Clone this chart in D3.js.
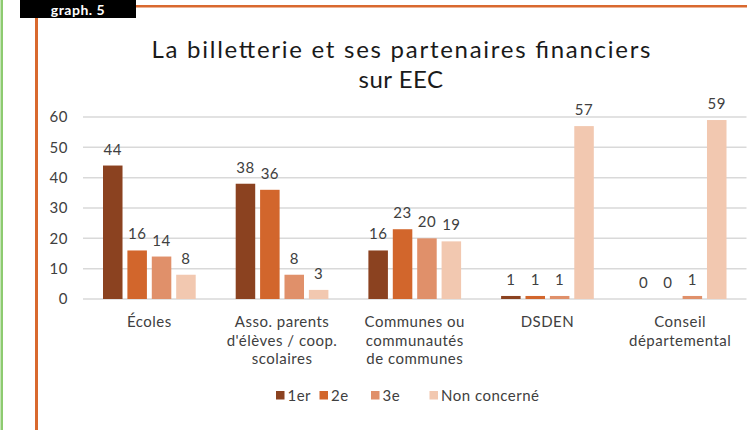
<!DOCTYPE html>
<html>
<head>
<meta charset="utf-8">
<script src="https://cdn.jsdelivr.net/npm/d3@7"></script>
<style>
  html, body { margin: 0; padding: 0; background: #fff; }
  svg { display: block; font-family: Lato, "Open Sans", sans-serif; }
</style>
</head>
<body>
<svg id="chart" width="747" height="430"></svg>
<script>
const categories = [
  ["Écoles"],
  ["Asso. parents", "d'élèves / coop.", "scolaires"],
  ["Communes ou", "communautés", "de communes"],
  ["DSDEN"],
  ["Conseil", "départemental"]
];
const seriesNames = ["1er", "2e", "3e", "Non concerné"];
const s1er = [44, 38, 16, 1, 0];
const s2e = [16, 36, 23, 1, 0];
const s3e = [14, 8, 20, 1, 1];
const sNon = [8, 3, 19, 57, 59];
const yTicks = [0, 10, 20, 30, 40, 50, 60];
const colors = ["#8B4220", "#D2662C", "#E0906A", "#F2C8B0"];

const seriesValues = [s1er, s2e, s3e, sNon];
const svg = d3.select("#chart");

// decorative frame
svg.append("rect").attr("x", 0.5).attr("y", 0).attr("width", 2.5).attr("height", 430).attr("fill", "#8DCB70");
svg.append("rect").attr("x", 35).attr("y", 5).attr("width", 3).attr("height", 425).attr("fill", "#D9692F");
svg.append("rect").attr("x", 35).attr("y", 5).attr("width", 712).attr("height", 2.5).attr("fill", "#D9692F");
svg.append("rect").attr("x", 20).attr("y", 0).attr("width", 116).attr("height", 18).attr("fill", "#000");
svg.append("text").attr("x", 78).attr("y", 14.5).attr("text-anchor", "middle")
  .attr("fill", "#fff").attr("font-size", 14).attr("font-weight", "bold").attr("letter-spacing", 0.5).text("graph. 5");

// title
svg.append("text").attr("x", 401).attr("y", 58).attr("text-anchor", "middle")
  .attr("fill", "#1a1a1a").attr("font-size", 24)
  .attr("textLength", 499).attr("lengthAdjust", "spacing")
  .text("La billetterie et ses partenaires financiers");
svg.append("text").attr("x", 401).attr("y", 88).attr("text-anchor", "middle")
  .attr("fill", "#1a1a1a").attr("font-size", 24).attr("letter-spacing", 0.5)
  .text("sur EEC");

// scales
const x0 = d3.scaleBand().domain(d3.range(categories.length)).range([83, 746.5]).paddingInner(0).paddingOuter(0);
const innerW = 92.7;
const x1 = d3.scaleBand().domain(d3.range(seriesNames.length)).range([0, innerW]).paddingInner(0.2).paddingOuter(0);
const groupOffset = (x0.bandwidth() - innerW) / 2;
const y = d3.scaleLinear().domain([0, 60]).range([299, 117]);

// gridlines
svg.append("g").selectAll("line").data(yTicks).join("line")
  .attr("x1", 83).attr("x2", 746.5)
  .attr("y1", d => y(d)).attr("y2", d => y(d))
  .attr("stroke", "#d9d9d9").attr("stroke-width", 1.5);

// y axis labels
const yAxis = d3.axisLeft(y).tickValues(yTicks).tickSize(0).tickPadding(0);
const gy = svg.append("g").attr("transform", "translate(68,0)").call(yAxis);
gy.select(".domain").remove();
gy.selectAll("text").attr("font-size", 15).attr("fill", "#404040").attr("font-family", "Lato, sans-serif").attr("letter-spacing", 0.5);

// bars
const groups = svg.append("g").selectAll("g").data(categories).join("g")
  .attr("transform", (d, i) => `translate(${x0(i) + groupOffset},0)`);
groups.each(function(d, ci) {
  const g = d3.select(this);
  seriesValues.forEach((vals, si) => {
    const v = vals[ci];
    if (v > 0) {
      g.append("rect")
        .attr("x", x1(si)).attr("width", x1.bandwidth())
        .attr("y", y(v)).attr("height", y(0) - y(v))
        .attr("fill", colors[si]);
    }
    g.append("text")
      .attr("x", x1(si) + x1.bandwidth() / 2)
      .attr("y", y(v) - 11)
      .attr("text-anchor", "middle").attr("font-size", 15).attr("letter-spacing", 0.5).attr("fill", "#404040")
      .text(v);
  });
});

// category labels
const xl = svg.append("g");
categories.forEach((lines, i) => {
  const t = xl.append("text").attr("text-anchor", "middle").attr("font-size", 15).attr("letter-spacing", 0.5).attr("fill", "#404040");
  lines.forEach((ln, k) => {
    t.append("tspan").attr("x", x0(i) + x0.bandwidth() / 2).attr("y", 327 + k * 18.5).text(ln);
  });
});

// legend
const legendX = [276, 319.5, 371, 429.5];
const lg = svg.append("g");
seriesNames.forEach((n, i) => {
  lg.append("rect").attr("x", legendX[i]).attr("y", 391).attr("width", 8.5).attr("height", 8.5).attr("fill", colors[i]);
  lg.append("text").attr("x", legendX[i] + 11.5).attr("y", 401).attr("font-size", 15).attr("letter-spacing", 0.5).attr("fill", "#404040").text(n);
});
</script>
</body>
</html>
